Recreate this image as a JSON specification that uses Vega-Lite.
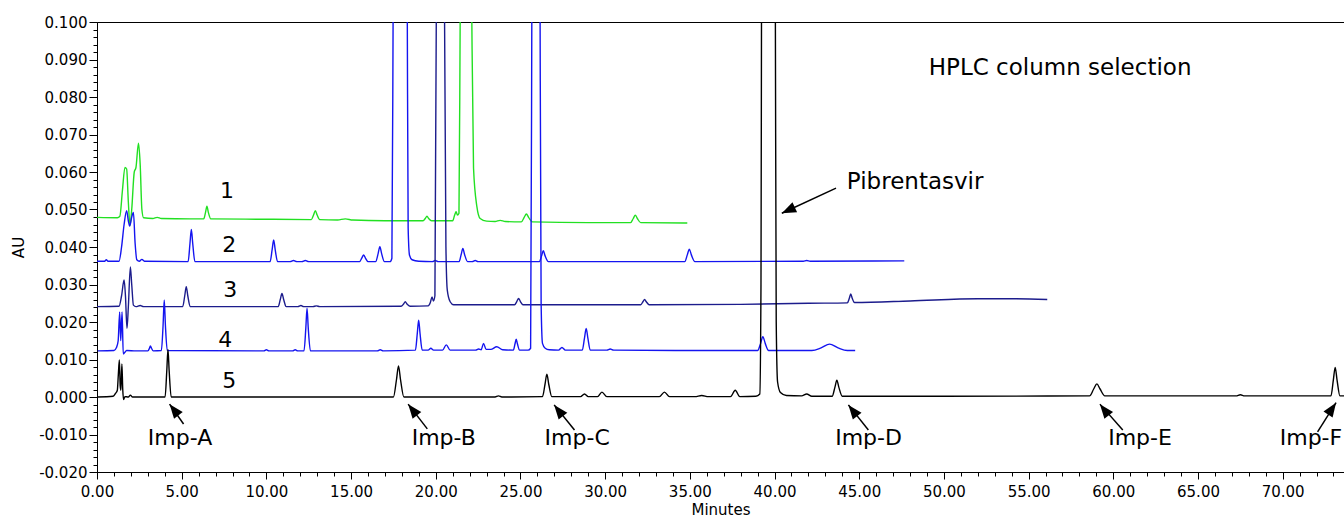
{
"$schema":"https://vega.github.io/schema/vega-lite/v6.json",
"width":1247,"height":450,
"autosize":{"type":"none"},
"padding":{"left":97,"top":22,"right":0,"bottom":48},
"background":"white",
"config":{"view":{"stroke":"black","strokeWidth":1}},
"datasets":{
"tr":[
{"s":"1","t":0,"v":0.0479},{"s":"1","t":1.2,"v":0.0478},{"s":"1","t":1.35,"v":0.0482},{"s":"1","t":1.5,"v":0.055},{"s":"1","t":1.65,"v":0.0612},{"s":"1","t":1.75,"v":0.0608},{"s":"1","t":1.85,"v":0.052},{"s":"1","t":1.95,"v":0.0457},{"s":"1","t":2.05,"v":0.05},{"s":"1","t":2.2,"v":0.06},{"s":"1","t":2.3,"v":0.0612},{"s":"1","t":2.45,"v":0.0677},{"s":"1","t":2.55,"v":0.062},{"s":"1","t":2.65,"v":0.05},{"s":"1","t":2.75,"v":0.0478},{"s":"1","t":3.3,"v":0.0476},{"s":"1","t":3.55,"v":0.0479},{"s":"1","t":3.8,"v":0.0476},{"s":"1","t":5.5,"v":0.0475},{"s":"1","t":6.3,"v":0.0475},{"s":"1","t":6.41,"v":0.0493},{"s":"1","t":6.49,"v":0.0509},{"s":"1","t":6.57,"v":0.0493},{"s":"1","t":6.72,"v":0.0475},{"s":"1","t":10,"v":0.0474},{"s":"1","t":12.65,"v":0.0473},{"s":"1","t":12.79,"v":0.0486},{"s":"1","t":12.89,"v":0.0497},{"s":"1","t":12.99,"v":0.0486},{"s":"1","t":13.15,"v":0.0473},{"s":"1","t":14.2,"v":0.0472},{"s":"1","t":14.66,"v":0.0475},{"s":"1","t":15.1,"v":0.0472},{"s":"1","t":17,"v":0.047},{"s":"1","t":19.25,"v":0.047},{"s":"1","t":19.38,"v":0.0476},{"s":"1","t":19.48,"v":0.0482},{"s":"1","t":19.58,"v":0.0476},{"s":"1","t":19.75,"v":0.047},{"s":"1","t":21.0,"v":0.047},{"s":"1","t":21.12,"v":0.0486},{"s":"1","t":21.2,"v":0.0494},{"s":"1","t":21.28,"v":0.0485},{"s":"1","t":21.37,"v":0.049},{"s":"1","t":21.44,"v":0.1},{"s":"1","t":21.78,"v":0.4},{"s":"1","t":22.13,"v":0.1},{"s":"1","t":22.23,"v":0.061},{"s":"1","t":22.43,"v":0.0507},{"s":"1","t":22.62,"v":0.0476},{"s":"1","t":23.0,"v":0.0469},{"s":"1","t":23.5,"v":0.0468},{"s":"1","t":23.8,"v":0.0471},{"s":"1","t":24.1,"v":0.0468},{"s":"1","t":25.05,"v":0.0467},{"s":"1","t":25.22,"v":0.0479},{"s":"1","t":25.35,"v":0.0488},{"s":"1","t":25.48,"v":0.0479},{"s":"1","t":25.7,"v":0.0467},{"s":"1","t":29,"v":0.0465},{"s":"1","t":31.5,"v":0.0465},{"s":"1","t":31.66,"v":0.0476},{"s":"1","t":31.78,"v":0.0485},{"s":"1","t":31.9,"v":0.0476},{"s":"1","t":32.1,"v":0.0465},{"s":"1","t":34.85,"v":0.0464},
{"s":"2","t":0,"v":0.0362},{"s":"2","t":0.45,"v":0.0362},{"s":"2","t":0.55,"v":0.0366},{"s":"2","t":0.65,"v":0.0362},{"s":"2","t":1.3,"v":0.0362},{"s":"2","t":1.45,"v":0.04},{"s":"2","t":1.6,"v":0.046},{"s":"2","t":1.75,"v":0.0497},{"s":"2","t":1.85,"v":0.047},{"s":"2","t":1.93,"v":0.0456},{"s":"2","t":2.05,"v":0.048},{"s":"2","t":2.15,"v":0.0492},{"s":"2","t":2.25,"v":0.041},{"s":"2","t":2.35,"v":0.0366},{"s":"2","t":2.5,"v":0.0362},{"s":"2","t":2.65,"v":0.0367},{"s":"2","t":2.8,"v":0.0362},{"s":"2","t":5.38,"v":0.0361},{"s":"2","t":5.49,"v":0.041},{"s":"2","t":5.57,"v":0.0447},{"s":"2","t":5.65,"v":0.041},{"s":"2","t":5.78,"v":0.0361},{"s":"2","t":10.22,"v":0.0361},{"s":"2","t":10.34,"v":0.0393},{"s":"2","t":10.43,"v":0.0419},{"s":"2","t":10.52,"v":0.0393},{"s":"2","t":10.66,"v":0.0361},{"s":"2","t":11.4,"v":0.0361},{"s":"2","t":11.6,"v":0.0364},{"s":"2","t":11.8,"v":0.0361},{"s":"2","t":12.1,"v":0.0361},{"s":"2","t":12.3,"v":0.0364},{"s":"2","t":12.5,"v":0.0361},{"s":"2","t":15.5,"v":0.0361},{"s":"2","t":15.64,"v":0.0371},{"s":"2","t":15.74,"v":0.0379},{"s":"2","t":15.84,"v":0.0371},{"s":"2","t":16.0,"v":0.0361},{"s":"2","t":16.45,"v":0.0361},{"s":"2","t":16.6,"v":0.0383},{"s":"2","t":16.7,"v":0.0401},{"s":"2","t":16.8,"v":0.0383},{"s":"2","t":16.97,"v":0.0361},{"s":"2","t":17.3,"v":0.0361},{"s":"2","t":17.41,"v":0.037},{"s":"2","t":17.48,"v":0.1},{"s":"2","t":17.9,"v":1.0},{"s":"2","t":18.32,"v":0.1},{"s":"2","t":18.37,"v":0.045},{"s":"2","t":18.45,"v":0.0378},{"s":"2","t":18.6,"v":0.0366},{"s":"2","t":19.0,"v":0.0362},{"s":"2","t":19.8,"v":0.0361},{"s":"2","t":19.97,"v":0.0364},{"s":"2","t":20.15,"v":0.0361},{"s":"2","t":21.38,"v":0.0361},{"s":"2","t":21.5,"v":0.038},{"s":"2","t":21.6,"v":0.0396},{"s":"2","t":21.7,"v":0.038},{"s":"2","t":21.88,"v":0.0361},{"s":"2","t":22.15,"v":0.0361},{"s":"2","t":22.33,"v":0.0364},{"s":"2","t":22.5,"v":0.0361},{"s":"2","t":26.12,"v":0.0361},{"s":"2","t":26.25,"v":0.0377},{"s":"2","t":26.35,"v":0.039},{"s":"2","t":26.45,"v":0.0377},{"s":"2","t":26.65,"v":0.0361},{"s":"2","t":34.7,"v":0.0361},{"s":"2","t":34.85,"v":0.0379},{"s":"2","t":34.97,"v":0.0394},{"s":"2","t":35.09,"v":0.0379},{"s":"2","t":35.3,"v":0.0361},{"s":"2","t":41.7,"v":0.0362},{"s":"2","t":41.9,"v":0.0364},{"s":"2","t":42.1,"v":0.0362},{"s":"2","t":47.66,"v":0.0363},
{"s":"3","t":0,"v":0.0241},{"s":"3","t":1.3,"v":0.0242},{"s":"3","t":1.45,"v":0.027},{"s":"3","t":1.6,"v":0.0312},{"s":"3","t":1.68,"v":0.027},{"s":"3","t":1.77,"v":0.0183},{"s":"3","t":1.85,"v":0.024},{"s":"3","t":1.97,"v":0.0347},{"s":"3","t":2.05,"v":0.03},{"s":"3","t":2.15,"v":0.0245},{"s":"3","t":2.3,"v":0.0241},{"s":"3","t":2.55,"v":0.0244},{"s":"3","t":2.75,"v":0.0241},{"s":"3","t":5.06,"v":0.0241},{"s":"3","t":5.18,"v":0.027},{"s":"3","t":5.27,"v":0.0294},{"s":"3","t":5.36,"v":0.027},{"s":"3","t":5.5,"v":0.0241},{"s":"3","t":10.7,"v":0.0241},{"s":"3","t":10.82,"v":0.026},{"s":"3","t":10.92,"v":0.0276},{"s":"3","t":11.02,"v":0.026},{"s":"3","t":11.17,"v":0.0241},{"s":"3","t":11.85,"v":0.0241},{"s":"3","t":12.04,"v":0.0244},{"s":"3","t":12.2,"v":0.0241},{"s":"3","t":12.75,"v":0.0241},{"s":"3","t":12.95,"v":0.0243},{"s":"3","t":13.15,"v":0.0241},{"s":"3","t":17.95,"v":0.0242},{"s":"3","t":18.1,"v":0.0248},{"s":"3","t":18.2,"v":0.0254},{"s":"3","t":18.3,"v":0.0248},{"s":"3","t":18.48,"v":0.0242},{"s":"3","t":19.55,"v":0.0243},{"s":"3","t":19.68,"v":0.0252},{"s":"3","t":19.78,"v":0.0267},{"s":"3","t":19.86,"v":0.0256},{"s":"3","t":19.95,"v":0.027},{"s":"3","t":20.03,"v":0.1},{"s":"3","t":20.28,"v":0.8},{"s":"3","t":20.52,"v":0.1},{"s":"3","t":20.6,"v":0.04},{"s":"3","t":20.68,"v":0.0285},{"s":"3","t":20.85,"v":0.0254},{"s":"3","t":21.05,"v":0.0246},{"s":"3","t":24.65,"v":0.0246},{"s":"3","t":24.79,"v":0.0255},{"s":"3","t":24.89,"v":0.0263},{"s":"3","t":24.99,"v":0.0255},{"s":"3","t":25.15,"v":0.0246},{"s":"3","t":32.1,"v":0.0246},{"s":"3","t":32.23,"v":0.0254},{"s":"3","t":32.33,"v":0.026},{"s":"3","t":32.43,"v":0.0254},{"s":"3","t":32.6,"v":0.0246},{"s":"3","t":38,"v":0.0247},{"s":"3","t":42,"v":0.025},{"s":"3","t":44.3,"v":0.0251},{"s":"3","t":44.42,"v":0.0264},{"s":"3","t":44.5,"v":0.0275},{"s":"3","t":44.58,"v":0.0264},{"s":"3","t":44.72,"v":0.0252},{"s":"3","t":48,"v":0.0256},{"s":"3","t":52,"v":0.0262},{"s":"3","t":54,"v":0.0262},{"s":"3","t":56.1,"v":0.026},
{"s":"4","t":0.05,"v":0.0123},{"s":"4","t":1.0,"v":0.0124},{"s":"4","t":1.15,"v":0.0132},{"s":"4","t":1.25,"v":0.015},{"s":"4","t":1.34,"v":0.0227},{"s":"4","t":1.4,"v":0.015},{"s":"4","t":1.48,"v":0.0227},{"s":"4","t":1.55,"v":0.0115},{"s":"4","t":1.62,"v":0.0118},{"s":"4","t":1.75,"v":0.0124},{"s":"4","t":2.3,"v":0.0123},{"s":"4","t":3.0,"v":0.0123},{"s":"4","t":3.1,"v":0.013},{"s":"4","t":3.15,"v":0.0136},{"s":"4","t":3.22,"v":0.013},{"s":"4","t":3.32,"v":0.0123},{"s":"4","t":3.8,"v":0.0124},{"s":"4","t":3.9,"v":0.019},{"s":"4","t":3.97,"v":0.0259},{"s":"4","t":4.04,"v":0.019},{"s":"4","t":4.15,"v":0.0124},{"s":"4","t":9.85,"v":0.0123},{"s":"4","t":10.0,"v":0.0126},{"s":"4","t":10.15,"v":0.0123},{"s":"4","t":11.55,"v":0.0123},{"s":"4","t":11.7,"v":0.0126},{"s":"4","t":11.85,"v":0.0123},{"s":"4","t":12.22,"v":0.0123},{"s":"4","t":12.33,"v":0.0185},{"s":"4","t":12.4,"v":0.0237},{"s":"4","t":12.47,"v":0.0185},{"s":"4","t":12.6,"v":0.0123},{"s":"4","t":16.55,"v":0.0123},{"s":"4","t":16.72,"v":0.0126},{"s":"4","t":16.9,"v":0.0123},{"s":"4","t":18.8,"v":0.0125},{"s":"4","t":18.91,"v":0.017},{"s":"4","t":18.99,"v":0.0205},{"s":"4","t":19.07,"v":0.017},{"s":"4","t":19.2,"v":0.0125},{"s":"4","t":19.55,"v":0.0125},{"s":"4","t":19.71,"v":0.013},{"s":"4","t":19.87,"v":0.0125},{"s":"4","t":20.4,"v":0.0125},{"s":"4","t":20.62,"v":0.0139},{"s":"4","t":20.85,"v":0.0125},{"s":"4","t":22.35,"v":0.0125},{"s":"4","t":22.53,"v":0.0128},{"s":"4","t":22.68,"v":0.0126},{"s":"4","t":22.82,"v":0.0143},{"s":"4","t":22.97,"v":0.0127},{"s":"4","t":23.25,"v":0.0127},{"s":"4","t":23.6,"v":0.0134},{"s":"4","t":23.95,"v":0.0126},{"s":"4","t":24.58,"v":0.0125},{"s":"4","t":24.68,"v":0.0142},{"s":"4","t":24.75,"v":0.0154},{"s":"4","t":24.82,"v":0.0142},{"s":"4","t":24.95,"v":0.0125},{"s":"4","t":25.45,"v":0.0125},{"s":"4","t":25.6,"v":0.013},{"s":"4","t":25.67,"v":0.1},{"s":"4","t":25.92,"v":0.8},{"s":"4","t":26.16,"v":0.1},{"s":"4","t":26.22,"v":0.025},{"s":"4","t":26.3,"v":0.0143},{"s":"4","t":26.46,"v":0.013},{"s":"4","t":26.7,"v":0.0126},{"s":"4","t":27.25,"v":0.0125},{"s":"4","t":27.45,"v":0.0132},{"s":"4","t":27.65,"v":0.0125},{"s":"4","t":28.65,"v":0.0125},{"s":"4","t":28.78,"v":0.0157},{"s":"4","t":28.88,"v":0.0183},{"s":"4","t":28.98,"v":0.0157},{"s":"4","t":29.12,"v":0.0125},{"s":"4","t":30.1,"v":0.0125},{"s":"4","t":30.3,"v":0.0128},{"s":"4","t":30.5,"v":0.0125},{"s":"4","t":36,"v":0.0124},{"s":"4","t":39.0,"v":0.0124},{"s":"4","t":39.18,"v":0.0143},{"s":"4","t":39.31,"v":0.0161},{"s":"4","t":39.45,"v":0.0143},{"s":"4","t":39.65,"v":0.0124},{"s":"4","t":42.2,"v":0.0124},{"s":"4","t":42.75,"v":0.0131},{"s":"4","t":43.25,"v":0.0141},{"s":"4","t":43.75,"v":0.0131},{"s":"4","t":44.3,"v":0.0124},{"s":"4","t":44.76,"v":0.0124},
{"s":"5","t":0.05,"v":0},{"s":"5","t":0.95,"v":0.0002},{"s":"5","t":1.1,"v":0.001},{"s":"5","t":1.2,"v":0.0018},{"s":"5","t":1.26,"v":0.006},{"s":"5","t":1.32,"v":0.0099},{"s":"5","t":1.37,"v":0.003},{"s":"5","t":1.41,"v":0.0018},{"s":"5","t":1.47,"v":0.0088},{"s":"5","t":1.52,"v":0.002},{"s":"5","t":1.57,"v":-0.0007},{"s":"5","t":1.65,"v":0.0001},{"s":"5","t":1.85,"v":0},{"s":"5","t":1.97,"v":0.0005},{"s":"5","t":2.1,"v":0},{"s":"5","t":4.02,"v":0},{"s":"5","t":4.12,"v":0.007},{"s":"5","t":4.19,"v":0.0127},{"s":"5","t":4.26,"v":0.007},{"s":"5","t":4.38,"v":0},{"s":"5","t":17.5,"v":0},{"s":"5","t":17.68,"v":0.0046},{"s":"5","t":17.8,"v":0.0083},{"s":"5","t":17.92,"v":0.0046},{"s":"5","t":18.12,"v":0},{"s":"5","t":23.5,"v":0},{"s":"5","t":23.7,"v":0.0003},{"s":"5","t":23.9,"v":0},{"s":"5","t":26.3,"v":0.0001},{"s":"5","t":26.45,"v":0.0034},{"s":"5","t":26.56,"v":0.0061},{"s":"5","t":26.67,"v":0.0034},{"s":"5","t":26.85,"v":0.0001},{"s":"5","t":28.55,"v":0.0001},{"s":"5","t":28.78,"v":0.0008},{"s":"5","t":29.0,"v":0.0001},{"s":"5","t":29.55,"v":0.0001},{"s":"5","t":29.81,"v":0.0013},{"s":"5","t":30.1,"v":0.0001},{"s":"5","t":33.2,"v":0.0001},{"s":"5","t":33.5,"v":0.0013},{"s":"5","t":33.8,"v":0.0001},{"s":"5","t":35.3,"v":0.0001},{"s":"5","t":35.7,"v":0.0004},{"s":"5","t":36.1,"v":0.0001},{"s":"5","t":37.4,"v":0.0001},{"s":"5","t":37.68,"v":0.0018},{"s":"5","t":37.95,"v":0.0001},{"s":"5","t":38.9,"v":0.0002},{"s":"5","t":39.13,"v":0.0008},{"s":"5","t":39.2,"v":0.03},{"s":"5","t":39.23,"v":0.1},{"s":"5","t":39.64,"v":1.0},{"s":"5","t":40.05,"v":0.1},{"s":"5","t":40.1,"v":0.02},{"s":"5","t":40.18,"v":0.004},{"s":"5","t":40.35,"v":0.0012},{"s":"5","t":40.7,"v":0.0004},{"s":"5","t":41.6,"v":0.0003},{"s":"5","t":41.9,"v":0.0008},{"s":"5","t":42.2,"v":0.0002},{"s":"5","t":43.4,"v":0.0002},{"s":"5","t":43.57,"v":0.0027},{"s":"5","t":43.68,"v":0.0045},{"s":"5","t":43.79,"v":0.0027},{"s":"5","t":44.0,"v":0.0002},{"s":"5","t":50,"v":0.0002},{"s":"5","t":58.6,"v":0.0003},{"s":"5","t":58.85,"v":0.0022},{"s":"5","t":59.03,"v":0.0035},{"s":"5","t":59.21,"v":0.0022},{"s":"5","t":59.5,"v":0.0003},{"s":"5","t":67.25,"v":0.0003},{"s":"5","t":67.5,"v":0.0006},{"s":"5","t":67.75,"v":0.0003},{"s":"5","t":72.85,"v":0.0003},{"s":"5","t":72.99,"v":0.0045},{"s":"5","t":73.1,"v":0.0079},{"s":"5","t":73.21,"v":0.0045},{"s":"5","t":73.38,"v":0.0003},{"s":"5","t":73.62,"v":0.0003}
],
"notes":[
{"k":"imp","label":"Imp-A","t":4.9,"v":-0.0109},
{"k":"imp","label":"Imp-B","t":20.47,"v":-0.0109},
{"k":"imp","label":"Imp-C","t":28.35,"v":-0.0109},
{"k":"imp","label":"Imp-D","t":45.55,"v":-0.0109},
{"k":"imp","label":"Imp-E","t":61.58,"v":-0.0109},
{"k":"imp","label":"Imp-F","t":71.67,"v":-0.0109},
{"k":"num","label":"1","t":7.67,"v":0.0549},
{"k":"num","label":"2","t":7.81,"v":0.0405},
{"k":"num","label":"3","t":7.87,"v":0.0285},
{"k":"num","label":"4","t":7.57,"v":0.0152},
{"k":"num","label":"5","t":7.81,"v":0.0043},
{"k":"title","label":"HPLC column selection","t":56.86,"v":0.0877},
{"k":"pib","label":"Pibrentasvir","t":44.27,"v":0.0574}
],
"arrows":[
{"label":"Imp-A","t":4.285,"v":-0.0019,"t0":5.11,"v0":-0.0072},
{"label":"Imp-B","t":18.37,"v":-0.0019,"t0":19.5,"v0":-0.0085},
{"label":"Imp-C","t":26.99,"v":-0.0021,"t0":28.19,"v0":-0.0088},
{"label":"Imp-D","t":44.36,"v":-0.0021,"t0":45.54,"v0":-0.0088},
{"label":"Imp-E","t":59.21,"v":-0.0019,"t0":60.56,"v0":-0.0088},
{"label":"Imp-F","t":73.15,"v":-0.0015,"t0":72.06,"v0":-0.0093},
{"label":"Pibrentasvir","t":40.43,"v":0.049,"t0":43.63,"v0":0.0557}
]
},
"encoding":{
"x":{"field":"t","type":"quantitative","scale":{"domain":[0,73.62],"nice":false,"zero":false},
 "axis":{"title":"Minutes","values":[0,1,2,3,4,5,6,7,8,9,10,11,12,13,14,15,16,17,18,19,20,21,22,23,24,25,26,27,28,29,30,31,32,33,34,35,36,37,38,39,40,41,42,43,44,45,46,47,48,49,50,51,52,53,54,55,56,57,58,59,60,61,62,63,64,65,66,67,68,69,70,71,72,73],
 "labelExpr":"datum.value % 5 === 0 ? format(datum.value, '.2f') : ''",
 "tickSize":{"condition":{"test":"datum.value % 5 === 0","value":7},"value":4},
 "grid":false,"domainColor":"black","tickColor":"black","labelColor":"black","titleColor":"black",
 "labelFont":"DejaVu Sans","titleFont":"DejaVu Sans","labelFontSize":15,"titleFontSize":15,"titleFontWeight":"normal",
 "labelPadding":5,"titlePadding":3,"labelFlush":false,"labelOverlap":false,"labelBound":false}},
"y":{"field":"v","type":"quantitative","scale":{"domain":[-0.02,0.1],"nice":false,"zero":false},
 "axis":{"title":"AU","values":[-0.02,-0.018,-0.016,-0.014,-0.012,-0.01,-0.008,-0.006,-0.004,-0.002,0,0.002,0.004,0.006,0.008,0.01,0.012,0.014,0.016,0.018,0.02,0.022,0.024,0.026,0.028,0.03,0.032,0.034,0.036,0.038,0.04,0.042,0.044,0.046,0.048,0.05,0.052,0.054,0.056,0.058,0.06,0.062,0.064,0.066,0.068,0.07,0.072,0.074,0.076,0.078,0.08,0.082,0.084,0.086,0.088,0.09,0.092,0.094,0.096,0.098,0.1],
 "labelExpr":"abs(round(datum.value*1000)) % 10 === 0 ? replace(format(datum.value, '.3f'), '−', '-') : ''",
 "tickSize":{"condition":{"test":"abs(round(datum.value*1000)) % 10 === 0","value":8},"value":4},
 "grid":false,"domainColor":"black","tickColor":"black","labelColor":"black","titleColor":"black",
 "labelFont":"DejaVu Sans","titleFont":"DejaVu Sans","labelFontSize":15,"titleFontSize":15,"titleFontWeight":"normal",
 "labelPadding":2,"titlePadding":12,"labelOverlap":false,"labelBound":false,"labelFlush":false}}
},
"layer":[
{"data":{"name":"tr"},"mark":{"type":"line","interpolate":"monotone","strokeWidth":1.4,"clip":true},
 "encoding":{"color":{"field":"s","type":"nominal","scale":{"domain":["1","2","3","4","5"],"range":["#22e022","#1414f0","#1c1c8c","#1414f0","#000000"]},"legend":null}}},
{"data":{"name":"arrows"},"mark":{"type":"rule","strokeWidth":1.5,"color":"black"},
 "encoding":{"x2":{"field":"t0"},"y2":{"field":"v0"}}},
{"data":{"name":"arrows"},"transform":[{"filter":"datum.label !== 'Pibrentasvir' && datum.label !== 'Imp-F'"}],
 "mark":{"type":"point","shape":"M0,0L1,2.6L-1,2.6Z","filled":true,"size":121,"angle":322,"color":"black","opacity":1}},
{"data":{"name":"arrows"},"transform":[{"filter":"datum.label === 'Imp-F'"}],
 "mark":{"type":"point","shape":"M0,0L1,2.6L-1,2.6Z","filled":true,"size":121,"angle":34,"color":"black","opacity":1}},
{"data":{"name":"arrows"},"transform":[{"filter":"datum.label === 'Pibrentasvir'"}],
 "mark":{"type":"point","shape":"M0,0L1,2.6L-1,2.6Z","filled":true,"size":121,"angle":245,"color":"black","opacity":1}},
{"data":{"name":"notes"},"transform":[{"filter":"datum.k === 'imp'"}],
 "mark":{"type":"text","font":"DejaVu Sans","fontSize":22,"align":"center","baseline":"middle","color":"black"},
 "encoding":{"text":{"field":"label"}}},
{"data":{"name":"notes"},"transform":[{"filter":"datum.k === 'num'"}],
 "mark":{"type":"text","font":"DejaVu Sans","fontSize":22,"align":"center","baseline":"middle","color":"black"},
 "encoding":{"text":{"field":"label"}}},
{"data":{"name":"notes"},"transform":[{"filter":"datum.k === 'title'"}],
 "mark":{"type":"text","font":"DejaVu Sans","fontSize":23,"align":"center","baseline":"middle","color":"black"},
 "encoding":{"text":{"field":"label"}}},
{"data":{"name":"notes"},"transform":[{"filter":"datum.k === 'pib'"}],
 "mark":{"type":"text","font":"DejaVu Sans","fontSize":23,"align":"left","baseline":"middle","color":"black"},
 "encoding":{"text":{"field":"label"}}}
]
}
